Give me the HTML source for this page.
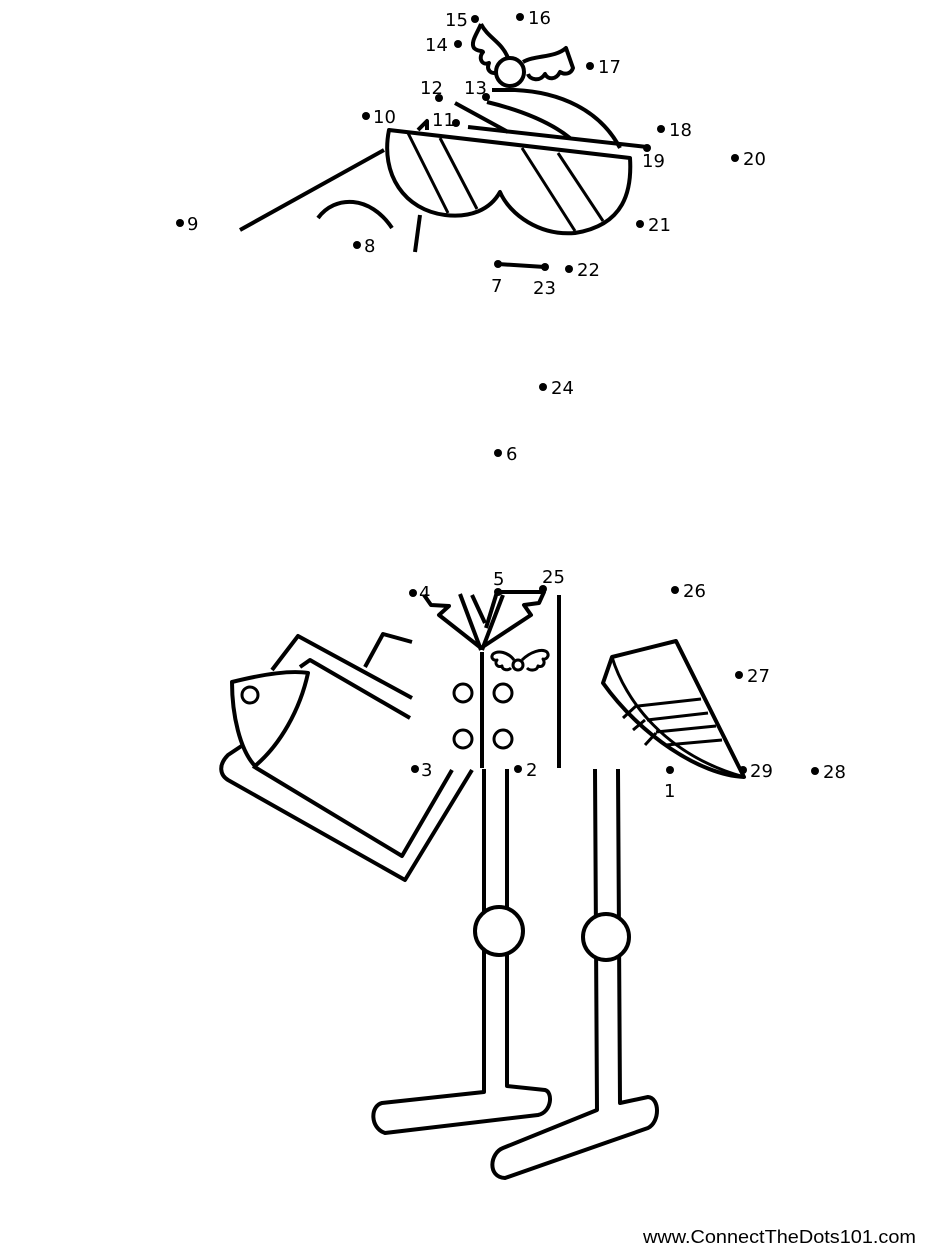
<!DOCTYPE html>
<html><head><meta charset="utf-8"><style>
html,body{margin:0;padding:0;background:#fff;}
svg{display:block}
text{font-family:"DejaVu Sans","Liberation Sans",sans-serif;font-size:18px;fill:#000}
</style></head><body>
<svg width="927" height="1250" viewBox="0 0 927 1250" xmlns="http://www.w3.org/2000/svg">
<g fill="none" stroke="#000" stroke-width="4" stroke-linejoin="round" stroke-linecap="butt">
<!-- head -->
<path d="M389,130 L630,158 C632,190 625,225 575,233 C540,236 510,215 500,192 C490,210 470,218 445,215 C405,210 380,175 389,130 Z"/>
<line x1="468" y1="127" x2="647" y2="147"/>
<path d="M492,90 L515,90 C560,92 600,110 620,148"/>
<path d="M487,102 C520,110 550,122 570,138"/>
<line x1="455" y1="103" x2="508" y2="132"/>
<path d="M418,130 L427,121 L427,130"/>
<line x1="240" y1="230" x2="384" y2="150"/>
<path d="M318,218 C335,195 370,195 392,228"/>
<line x1="420" y1="215" x2="415" y2="252"/>
<line x1="408" y1="133" x2="448" y2="213" stroke-width="3"/>
<line x1="440" y1="138" x2="477" y2="209" stroke-width="3"/>
<line x1="522" y1="148" x2="575" y2="231" stroke-width="3"/>
<line x1="558" y1="153" x2="603" y2="221" stroke-width="3"/>
<line x1="498" y1="264" x2="545" y2="267"/>
<path d="M481,24 C488,38 502,42 508,58"/>
<path d="M481,24 C478,32 470,42 474,48 C478,52 482,50 483,52 C478,58 482,66 489,63 C486,70 491,75 498,72"/>
<path d="M523,62 C535,55 555,58 566,48 L573,68 C571,74 565,75 560,72 C556,80 548,80 545,74 C540,82 530,80 528,74"/>
<circle cx="510" cy="72" r="14" fill="#fff"/>
<!-- body -->
<line x1="482" y1="652" x2="482" y2="768"/>
<circle cx="463" cy="693" r="9" stroke-width="3"/>
<circle cx="503" cy="693" r="9" stroke-width="3"/>
<circle cx="463" cy="739" r="9" stroke-width="3"/>
<circle cx="503" cy="739" r="9" stroke-width="3"/>
<line x1="460" y1="594" x2="481" y2="650"/>
<line x1="472" y1="595" x2="485" y2="623"/>
<line x1="497" y1="592" x2="486" y2="628"/>
<line x1="503" y1="595" x2="482" y2="650"/>
<path d="M424,595 L431,605 L449,606 L439,615 L481,648 L531,615 L524,605 L539,603 L544,592 L497,592"/>
<line x1="559" y1="595" x2="559" y2="768"/>
<g stroke-width="3">
<path d="M514,660 C508,652 498,650 493,654 C490,658 494,661 497,660 C494,664 498,668 502,666 C502,670 508,671 511,668"/>
<path d="M522,660 C530,652 542,648 547,652 C550,656 546,660 543,659 C546,664 542,668 538,666 C537,671 530,671 527,668"/>
<circle cx="518" cy="665" r="5"/>
</g>
<!-- legs -->
<path d="M484,769 L484,1092 L382,1103 C370,1106 370,1128 385,1133 L538,1115 C552,1112 553,1092 545,1090 L507,1086 L507,769"/>
<path d="M595,769 L597,1110 L503,1148 C490,1153 487,1177 505,1178 L648,1128 C660,1122 660,1098 648,1097 L620,1103 L618,769"/>
<circle cx="499" cy="931" r="24" fill="#fff"/>
<circle cx="606" cy="937" r="23" fill="#fff"/>
<!-- left arm / fish box -->
<path d="M243,745 L228,755 C218,765 220,775 228,780 L405,880 L472,770"/>
<path d="M253,766 L402,856 L452,770"/>
<path d="M272,670 L298,636 L412,698"/>
<path d="M300,667 L310,660 L410,718"/>
<path d="M365,667 L383,634 L412,642"/>
<path d="M232,682 C260,675 290,670 308,673 C300,710 280,745 255,766 C240,750 232,715 232,682 Z"/>
<circle cx="250" cy="695" r="8" stroke-width="3"/>
<!-- right arm -->
<path d="M612,657 L676,641 L744,777 C700,775 640,735 603,683 L612,657 Z"/>
<path d="M612,657 C625,700 665,755 744,777" stroke-width="3"/>
<line x1="638" y1="706" x2="701" y2="699" stroke-width="3"/>
<line x1="647" y1="720" x2="708" y2="713" stroke-width="3"/>
<line x1="656" y1="732" x2="716" y2="726" stroke-width="3"/>
<line x1="666" y1="745" x2="722" y2="740" stroke-width="3"/>
<line x1="623" y1="718" x2="636" y2="706" stroke-width="3"/>
<line x1="633" y1="730" x2="645" y2="720" stroke-width="3"/>
<line x1="645" y1="745" x2="656" y2="733" stroke-width="3"/>
</g>
<g fill="#000">
<circle cx="670" cy="770" r="4"/><circle cx="518" cy="769" r="4"/><circle cx="415" cy="769" r="4"/>
<circle cx="413" cy="593" r="4"/><circle cx="498" cy="592" r="4"/><circle cx="498" cy="453" r="4"/>
<circle cx="498" cy="264" r="4"/><circle cx="357" cy="245" r="4"/><circle cx="180" cy="223" r="4"/>
<circle cx="366" cy="116" r="4"/><circle cx="456" cy="123" r="4"/><circle cx="439" cy="98" r="4"/>
<circle cx="486" cy="97" r="4"/><circle cx="458" cy="44" r="4"/><circle cx="475" cy="19" r="4"/>
<circle cx="520" cy="17" r="4"/><circle cx="590" cy="66" r="4"/><circle cx="661" cy="129" r="4"/>
<circle cx="647" cy="148" r="4"/><circle cx="735" cy="158" r="4"/><circle cx="640" cy="224" r="4"/>
<circle cx="569" cy="269" r="4"/><circle cx="545" cy="267" r="4"/><circle cx="543" cy="387" r="4"/>
<circle cx="543" cy="589" r="4"/><circle cx="675" cy="590" r="4"/><circle cx="739" cy="675" r="4"/>
<circle cx="815" cy="771" r="4"/><circle cx="743" cy="770" r="4"/>
</g>
<text x="664" y="797">1</text>
<text x="526" y="776">2</text>
<text x="421" y="776">3</text>
<text x="419" y="599">4</text>
<text x="493" y="585">5</text>
<text x="506" y="460">6</text>
<text x="491" y="292">7</text>
<text x="364" y="252">8</text>
<text x="187" y="230">9</text>
<text x="373" y="123">10</text>
<text x="432" y="126">11</text>
<text x="420" y="94">12</text>
<text x="464" y="94">13</text>
<text x="425" y="51">14</text>
<text x="445" y="26">15</text>
<text x="528" y="24">16</text>
<text x="598" y="73">17</text>
<text x="669" y="136">18</text>
<text x="642" y="167">19</text>
<text x="743" y="165">20</text>
<text x="648" y="231">21</text>
<text x="577" y="276">22</text>
<text x="533" y="294">23</text>
<text x="551" y="394">24</text>
<text x="542" y="583">25</text>
<text x="683" y="597">26</text>
<text x="747" y="682">27</text>
<text x="823" y="778">28</text>
<text x="750" y="777">29</text>
<text x="643" y="1243" textLength="273" lengthAdjust="spacingAndGlyphs" style="font-family:'Liberation Sans',sans-serif;font-size:18px">www.ConnectTheDots101.com</text>
</svg>
</body></html>
